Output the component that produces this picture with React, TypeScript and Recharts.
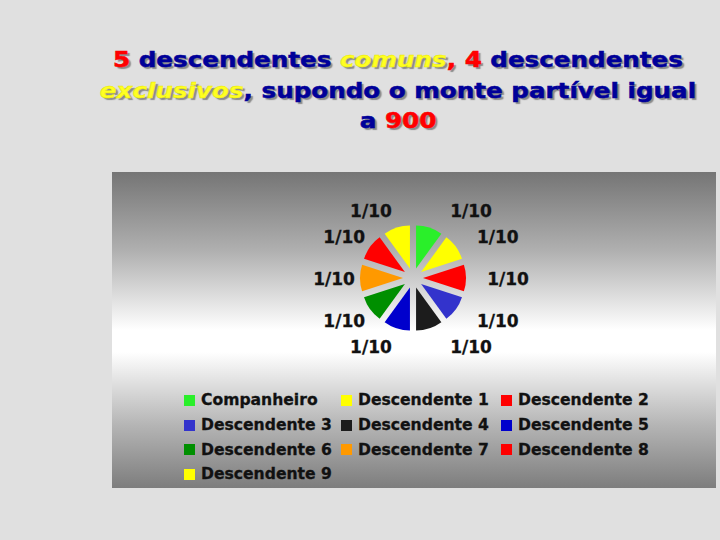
import React from 'react';
import { PieChart, Pie, Cell, Legend, Sector } from 'recharts';

const heirs = ['Companheiro', 'Descendente 1', 'Descendente 2', 'Descendente 3', 'Descendente 4', 'Descendente 5', 'Descendente 6', 'Descendente 7', 'Descendente 8', 'Descendente 9'];
const shares = [1, 1, 1, 1, 1, 1, 1, 1, 1, 1];
const shareLabels = ['1/10', '1/10', '1/10', '1/10', '1/10', '1/10', '1/10', '1/10', '1/10', '1/10'];
const colors = ['#2aef2a', '#ffff00', '#ff0000', '#3333cc', '#1c1c1c', '#0000cc', '#008f00', '#ff9900', '#ff0000', '#ffff00'];

const data = heirs.map((name, i) => ({ name, value: shares[i], label: shareLabels[i] }));

const RAD = Math.PI / 180;
const FONT = '"DejaVu Sans", Verdana, sans-serif';

const explodedShape = (props: any) => {
  const { cx, cy, midAngle, innerRadius, outerRadius, startAngle, endAngle, fill } = props;
  const d = 10;
  const dx = d * Math.cos(-midAngle * RAD);
  const dy = d * Math.sin(-midAngle * RAD);
  return (
    <Sector
      cx={cx + dx}
      cy={cy + dy}
      innerRadius={innerRadius}
      outerRadius={outerRadius}
      startAngle={startAngle}
      endAngle={endAngle}
      fill={fill}
      stroke="none"
    />
  );
};

const renderLabel = (props: any) => {
  const { cx, cy, midAngle, index } = props;
  const c = Math.cos(-midAngle * RAD);
  const s = Math.sin(-midAngle * RAD);
  const x = cx + 53.5 * c + (c >= 0 ? 41.5 : -25.5);
  const y = cy + 71 * s + 1;
  return (
    <text
      x={x}
      y={y}
      textAnchor="middle"
      dominantBaseline="central"
      fontFamily={FONT}
      fontWeight="bold"
      fontSize={17}
      fill="#111"
      stroke="#111"
      strokeWidth={0.3}
    >
      {data[index].label}
    </text>
  );
};

const LegendGrid = (props: any) => {
  const { payload } = props;
  const items = (payload || []) as any[];
  return (
    <div style={{ display: 'grid', gridTemplateColumns: '157px 160px 160px', fontFamily: FONT, fontWeight: 'bold', fontSize: 15.6, color: '#111', WebkitTextStroke: '0.3px #111' }}>
      {items.map((it, i) => (
        <div key={i} style={{ height: 24.7, display: 'flex', alignItems: 'center', whiteSpace: 'nowrap' }}>
          <span style={{ display: 'inline-block', width: 11, height: 11, background: it.color, marginRight: 6, flex: 'none' }} />
          <span>{it.value}</span>
        </div>
      ))}
    </div>
  );
};

const shadow = '2px 2px 1px #8a8a8a';
const red = { color: '#ff0000', textShadow: shadow, WebkitTextStroke: '0.5px #ff0000' };
const blue = { color: '#000099', textShadow: shadow, WebkitTextStroke: '0.5px #000099' };
const yellow = { color: '#ffff22', fontStyle: 'italic' as const, textShadow: shadow, WebkitTextStroke: '0.4px #e8e800' };

export default function App() {
  return (
    <div style={{ position: 'absolute', left: 0, top: 0, width: 720, height: 540, background: '#e0e0e0', overflow: 'hidden' }}>
      <div
        style={{
          position: 'absolute',
          left: 38,
          top: 45,
          width: 720,
          textAlign: 'center',
          fontFamily: FONT,
          fontWeight: 'bold',
          fontSize: 20.5,
          lineHeight: '30.5px',
          transform: 'scaleX(1.2)',
          transformOrigin: 'center',
          whiteSpace: 'nowrap',
        }}
      >
        <div>
          <span style={red}>5</span> <span style={blue}>descendentes</span> <span style={yellow}>comuns</span>
          <span style={red}>,</span> <span style={red}>4</span> <span style={blue}>descendentes</span>
        </div>
        <div>
          <span style={yellow}>exclusivos</span>
          <span style={blue}>, supondo o monte partível igual</span>
        </div>
        <div>
          <span style={blue}>a</span> <span style={red}>900</span>
        </div>
      </div>
      <div
        style={{
          position: 'absolute',
          left: 112,
          top: 172,
          width: 604,
          height: 316,
          background: 'linear-gradient(to bottom, #757575 0%, #b0b0b0 25%, #ffffff 50%, #ffffff 57%, #b5b5b5 80%, #7d7d7d 100%)',
        }}
      >
        <PieChart width={604} height={316} margin={{ top: 0, right: 0, bottom: 0, left: 0 }}>
          <Pie
            data={data}
            dataKey="value"
            nameKey="name"
            cx={301}
            cy={106}
            outerRadius={43}
            startAngle={90}
            endAngle={-270}
            stroke="none"
            isAnimationActive={false}
            label={renderLabel}
            labelLine={false}
            shape={explodedShape}
          >
            {data.map((d, i) => (
              <Cell key={d.name} fill={colors[i]} />
            ))}
          </Pie>
          <Legend
            content={<LegendGrid />}
            wrapperStyle={{ position: 'absolute', left: 72, top: 216, width: 480 }}
          />
        </PieChart>
      </div>
    </div>
  );
}
